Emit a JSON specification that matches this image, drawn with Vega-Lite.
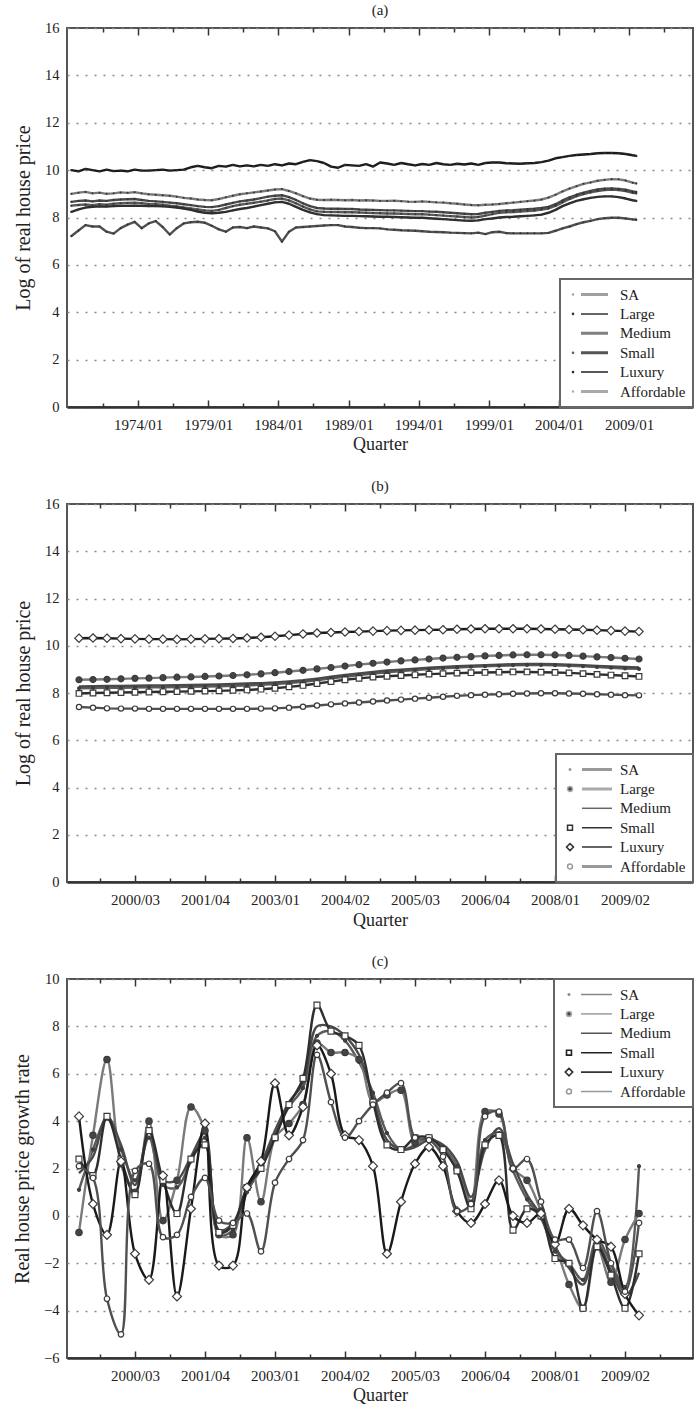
{
"$schema": "https://vega.github.io/schema/vega-lite/v6.json",
"background": "white",
"padding": {"left": 11, "top": 2, "right": 0, "bottom": 0},
"autosize": {"type": "pad"},
"bounds": "flush",
"spacing": 97,
"config": {
  "font": "Liberation Serif, Times New Roman, serif",
  "view": {"stroke": "#555555", "strokeWidth": 2},
  "title": {"font": "Liberation Serif, Times New Roman, serif", "fontSize": 15, "fontWeight": "normal", "color": "#222222", "offset": 2},
  "axis": {"labelFont": "Liberation Serif, Times New Roman, serif", "titleFont": "Liberation Serif, Times New Roman, serif", "labelColor": "#222222", "titleColor": "#222222", "titleFontWeight": "normal", "labelFontSize": 14, "titleFontSize": 18},
  "axisY": {"titleFontSize": 20, "labelFontSize": 14.5},
  "axisX": {"labelFontSize": 15},
  "legend": {"labelFont": "Liberation Serif, Times New Roman, serif", "labelFontSize": 15, "labelColor": "#222222", "fillColor": "white", "strokeColor": "#666666", "padding": 7, "rowPadding": 2.4, "symbolSize": 225, "offset": 0, "labelLimit": 200}
},
"datasets": {
"A": [
{"t":1969.25,"SA":8.50,"Large":9.00,"Medium":8.66,"Small":8.24,"Luxury":10.00,"Affordable":7.22},
{"t":1969.75,"SA":8.53,"Large":9.05,"Medium":8.70,"Small":8.34,"Luxury":9.95,"Affordable":7.45},
{"t":1970.25,"SA":8.55,"Large":9.08,"Medium":8.72,"Small":8.42,"Luxury":10.05,"Affordable":7.68},
{"t":1970.75,"SA":8.52,"Large":9.02,"Medium":8.68,"Small":8.45,"Luxury":10.00,"Affordable":7.62},
{"t":1971.25,"SA":8.56,"Large":9.05,"Medium":8.72,"Small":8.47,"Luxury":9.95,"Affordable":7.62},
{"t":1971.75,"SA":8.54,"Large":9.00,"Medium":8.70,"Small":8.46,"Luxury":10.02,"Affordable":7.40},
{"t":1972.25,"SA":8.58,"Large":9.02,"Medium":8.74,"Small":8.48,"Luxury":9.96,"Affordable":7.32},
{"t":1972.75,"SA":8.60,"Large":9.06,"Medium":8.76,"Small":8.49,"Luxury":9.98,"Affordable":7.55},
{"t":1973.25,"SA":8.61,"Large":9.04,"Medium":8.77,"Small":8.49,"Luxury":9.95,"Affordable":7.70},
{"t":1973.75,"SA":8.62,"Large":9.07,"Medium":8.78,"Small":8.50,"Luxury":10.02,"Affordable":7.82},
{"t":1974.25,"SA":8.60,"Large":9.02,"Medium":8.74,"Small":8.49,"Luxury":9.98,"Affordable":7.55},
{"t":1974.75,"SA":8.57,"Large":8.98,"Medium":8.70,"Small":8.48,"Luxury":9.98,"Affordable":7.75},
{"t":1975.25,"SA":8.56,"Large":8.96,"Medium":8.68,"Small":8.48,"Luxury":10.00,"Affordable":7.85},
{"t":1975.75,"SA":8.54,"Large":8.94,"Medium":8.66,"Small":8.47,"Luxury":10.02,"Affordable":7.60},
{"t":1976.25,"SA":8.50,"Large":8.92,"Medium":8.63,"Small":8.45,"Luxury":9.98,"Affordable":7.28},
{"t":1976.75,"SA":8.47,"Large":8.88,"Medium":8.60,"Small":8.42,"Luxury":10.00,"Affordable":7.55},
{"t":1977.25,"SA":8.42,"Large":8.83,"Medium":8.56,"Small":8.38,"Luxury":10.02,"Affordable":7.75},
{"t":1977.75,"SA":8.38,"Large":8.80,"Medium":8.52,"Small":8.32,"Luxury":10.12,"Affordable":7.80},
{"t":1978.25,"SA":8.34,"Large":8.76,"Medium":8.48,"Small":8.25,"Luxury":10.18,"Affordable":7.82},
{"t":1978.75,"SA":8.30,"Large":8.74,"Medium":8.45,"Small":8.20,"Luxury":10.12,"Affordable":7.78},
{"t":1979.25,"SA":8.28,"Large":8.73,"Medium":8.44,"Small":8.18,"Luxury":10.08,"Affordable":7.65},
{"t":1979.75,"SA":8.32,"Large":8.78,"Medium":8.48,"Small":8.20,"Luxury":10.18,"Affordable":7.50},
{"t":1980.25,"SA":8.40,"Large":8.85,"Medium":8.55,"Small":8.24,"Luxury":10.15,"Affordable":7.40},
{"t":1980.75,"SA":8.48,"Large":8.92,"Medium":8.62,"Small":8.30,"Luxury":10.22,"Affordable":7.58},
{"t":1981.25,"SA":8.54,"Large":8.98,"Medium":8.68,"Small":8.36,"Luxury":10.16,"Affordable":7.60},
{"t":1981.75,"SA":8.58,"Large":9.02,"Medium":8.72,"Small":8.40,"Luxury":10.20,"Affordable":7.55},
{"t":1982.25,"SA":8.62,"Large":9.06,"Medium":8.76,"Small":8.46,"Luxury":10.16,"Affordable":7.62},
{"t":1982.75,"SA":8.67,"Large":9.10,"Medium":8.82,"Small":8.52,"Luxury":10.22,"Affordable":7.58},
{"t":1983.25,"SA":8.72,"Large":9.14,"Medium":8.88,"Small":8.58,"Luxury":10.18,"Affordable":7.54},
{"t":1983.75,"SA":8.78,"Large":9.18,"Medium":8.92,"Small":8.64,"Luxury":10.25,"Affordable":7.42},
{"t":1984.25,"SA":8.80,"Large":9.20,"Medium":8.94,"Small":8.66,"Luxury":10.20,"Affordable":6.98},
{"t":1984.75,"SA":8.72,"Large":9.12,"Medium":8.86,"Small":8.58,"Luxury":10.28,"Affordable":7.40},
{"t":1985.25,"SA":8.60,"Large":9.02,"Medium":8.74,"Small":8.45,"Luxury":10.25,"Affordable":7.58},
{"t":1985.75,"SA":8.46,"Large":8.90,"Medium":8.60,"Small":8.32,"Luxury":10.35,"Affordable":7.60},
{"t":1986.25,"SA":8.34,"Large":8.80,"Medium":8.48,"Small":8.22,"Luxury":10.42,"Affordable":7.62},
{"t":1986.75,"SA":8.26,"Large":8.75,"Medium":8.40,"Small":8.14,"Luxury":10.38,"Affordable":7.64},
{"t":1987.25,"SA":8.24,"Large":8.74,"Medium":8.38,"Small":8.10,"Luxury":10.30,"Affordable":7.66},
{"t":1987.75,"SA":8.23,"Large":8.75,"Medium":8.37,"Small":8.09,"Luxury":10.15,"Affordable":7.68},
{"t":1988.25,"SA":8.23,"Large":8.74,"Medium":8.37,"Small":8.08,"Luxury":10.10,"Affordable":7.68},
{"t":1988.75,"SA":8.22,"Large":8.73,"Medium":8.36,"Small":8.07,"Luxury":10.22,"Affordable":7.62},
{"t":1989.25,"SA":8.22,"Large":8.74,"Medium":8.36,"Small":8.07,"Luxury":10.20,"Affordable":7.60},
{"t":1989.75,"SA":8.21,"Large":8.72,"Medium":8.34,"Small":8.06,"Luxury":10.18,"Affordable":7.57},
{"t":1990.25,"SA":8.20,"Large":8.73,"Medium":8.33,"Small":8.05,"Luxury":10.25,"Affordable":7.55},
{"t":1990.75,"SA":8.19,"Large":8.72,"Medium":8.32,"Small":8.04,"Luxury":10.15,"Affordable":7.55},
{"t":1991.25,"SA":8.18,"Large":8.70,"Medium":8.31,"Small":8.03,"Luxury":10.32,"Affordable":7.54},
{"t":1991.75,"SA":8.17,"Large":8.70,"Medium":8.30,"Small":8.03,"Luxury":10.28,"Affordable":7.50},
{"t":1992.25,"SA":8.17,"Large":8.71,"Medium":8.30,"Small":8.02,"Luxury":10.22,"Affordable":7.48},
{"t":1992.75,"SA":8.16,"Large":8.69,"Medium":8.29,"Small":8.01,"Luxury":10.30,"Affordable":7.46},
{"t":1993.25,"SA":8.15,"Large":8.67,"Medium":8.28,"Small":8.00,"Luxury":10.25,"Affordable":7.45},
{"t":1993.75,"SA":8.14,"Large":8.66,"Medium":8.27,"Small":7.99,"Luxury":10.20,"Affordable":7.44},
{"t":1994.25,"SA":8.14,"Large":8.68,"Medium":8.27,"Small":7.99,"Luxury":10.26,"Affordable":7.42},
{"t":1994.75,"SA":8.12,"Large":8.66,"Medium":8.25,"Small":7.97,"Luxury":10.22,"Affordable":7.40},
{"t":1995.25,"SA":8.10,"Large":8.64,"Medium":8.24,"Small":7.95,"Luxury":10.30,"Affordable":7.39},
{"t":1995.75,"SA":8.08,"Large":8.63,"Medium":8.22,"Small":7.93,"Luxury":10.25,"Affordable":7.38},
{"t":1996.25,"SA":8.06,"Large":8.60,"Medium":8.20,"Small":7.91,"Luxury":10.22,"Affordable":7.36},
{"t":1996.75,"SA":8.04,"Large":8.58,"Medium":8.18,"Small":7.89,"Luxury":10.27,"Affordable":7.35},
{"t":1997.25,"SA":8.02,"Large":8.55,"Medium":8.16,"Small":7.87,"Luxury":10.24,"Affordable":7.34},
{"t":1997.75,"SA":8.00,"Large":8.53,"Medium":8.14,"Small":7.86,"Luxury":10.28,"Affordable":7.33},
{"t":1998.25,"SA":8.02,"Large":8.52,"Medium":8.15,"Small":7.88,"Luxury":10.22,"Affordable":7.36},
{"t":1998.75,"SA":8.08,"Large":8.54,"Medium":8.20,"Small":7.93,"Luxury":10.30,"Affordable":7.30},
{"t":1999.25,"SA":8.14,"Large":8.55,"Medium":8.24,"Small":7.96,"Luxury":10.32,"Affordable":7.38},
{"t":1999.75,"SA":8.20,"Large":8.57,"Medium":8.28,"Small":8.00,"Luxury":10.32,"Affordable":7.40},
{"t":2000.25,"SA":8.22,"Large":8.60,"Medium":8.30,"Small":8.02,"Luxury":10.29,"Affordable":7.34},
{"t":2000.75,"SA":8.23,"Large":8.63,"Medium":8.31,"Small":8.03,"Luxury":10.28,"Affordable":7.33},
{"t":2001.25,"SA":8.25,"Large":8.66,"Medium":8.33,"Small":8.05,"Luxury":10.27,"Affordable":7.33},
{"t":2001.75,"SA":8.27,"Large":8.69,"Medium":8.35,"Small":8.07,"Luxury":10.29,"Affordable":7.33},
{"t":2002.25,"SA":8.29,"Large":8.72,"Medium":8.37,"Small":8.09,"Luxury":10.30,"Affordable":7.33},
{"t":2002.75,"SA":8.33,"Large":8.76,"Medium":8.40,"Small":8.12,"Luxury":10.34,"Affordable":7.33},
{"t":2003.25,"SA":8.38,"Large":8.84,"Medium":8.45,"Small":8.20,"Luxury":10.40,"Affordable":7.35},
{"t":2003.75,"SA":8.49,"Large":8.96,"Medium":8.56,"Small":8.32,"Luxury":10.50,"Affordable":7.44},
{"t":2004.25,"SA":8.64,"Large":9.10,"Medium":8.72,"Small":8.48,"Luxury":10.55,"Affordable":7.54},
{"t":2004.75,"SA":8.78,"Large":9.22,"Medium":8.85,"Small":8.60,"Luxury":10.60,"Affordable":7.62},
{"t":2005.25,"SA":8.90,"Large":9.32,"Medium":8.96,"Small":8.70,"Luxury":10.64,"Affordable":7.72},
{"t":2005.75,"SA":8.99,"Large":9.42,"Medium":9.05,"Small":8.77,"Luxury":10.66,"Affordable":7.80},
{"t":2006.25,"SA":9.06,"Large":9.48,"Medium":9.12,"Small":8.83,"Luxury":10.68,"Affordable":7.86},
{"t":2006.75,"SA":9.12,"Large":9.55,"Medium":9.18,"Small":8.87,"Luxury":10.71,"Affordable":7.93},
{"t":2007.25,"SA":9.16,"Large":9.59,"Medium":9.22,"Small":8.89,"Luxury":10.72,"Affordable":7.97},
{"t":2007.75,"SA":9.18,"Large":9.62,"Medium":9.23,"Small":8.89,"Luxury":10.72,"Affordable":7.99},
{"t":2008.25,"SA":9.16,"Large":9.61,"Medium":9.21,"Small":8.86,"Luxury":10.71,"Affordable":7.99},
{"t":2008.75,"SA":9.12,"Large":9.56,"Medium":9.17,"Small":8.80,"Luxury":10.68,"Affordable":7.96},
{"t":2009.25,"SA":9.04,"Large":9.47,"Medium":9.10,"Small":8.73,"Luxury":10.63,"Affordable":7.92},
{"t":2009.5,"SA":9.02,"Large":9.44,"Medium":9.08,"Small":8.70,"Luxury":10.60,"Affordable":7.90}
],
"B": [
{"t":1999.5,"SA":8.20,"Large":8.56,"Medium":8.28,"Small":7.98,"Luxury":10.32,"Affordable":7.41},
{"t":1999.75,"SA":8.21,"Large":8.57,"Medium":8.29,"Small":8.00,"Luxury":10.33,"Affordable":7.38},
{"t":2000,"SA":8.22,"Large":8.58,"Medium":8.30,"Small":8.01,"Luxury":10.32,"Affordable":7.35},
{"t":2000.25,"SA":8.22,"Large":8.60,"Medium":8.30,"Small":8.02,"Luxury":10.30,"Affordable":7.34},
{"t":2000.5,"SA":8.23,"Large":8.62,"Medium":8.31,"Small":8.03,"Luxury":10.29,"Affordable":7.34},
{"t":2000.75,"SA":8.24,"Large":8.63,"Medium":8.32,"Small":8.04,"Luxury":10.28,"Affordable":7.33},
{"t":2001,"SA":8.24,"Large":8.65,"Medium":8.32,"Small":8.05,"Luxury":10.28,"Affordable":7.33},
{"t":2001.25,"SA":8.25,"Large":8.67,"Medium":8.33,"Small":8.06,"Luxury":10.27,"Affordable":7.33},
{"t":2001.5,"SA":8.26,"Large":8.68,"Medium":8.34,"Small":8.07,"Luxury":10.28,"Affordable":7.33},
{"t":2001.75,"SA":8.27,"Large":8.70,"Medium":8.35,"Small":8.08,"Luxury":10.29,"Affordable":7.33},
{"t":2002,"SA":8.28,"Large":8.72,"Medium":8.36,"Small":8.09,"Luxury":10.30,"Affordable":7.33},
{"t":2002.25,"SA":8.30,"Large":8.74,"Medium":8.38,"Small":8.11,"Luxury":10.31,"Affordable":7.33},
{"t":2002.5,"SA":8.32,"Large":8.77,"Medium":8.40,"Small":8.13,"Luxury":10.33,"Affordable":7.33},
{"t":2002.75,"SA":8.35,"Large":8.81,"Medium":8.42,"Small":8.16,"Luxury":10.36,"Affordable":7.34},
{"t":2003,"SA":8.38,"Large":8.86,"Medium":8.45,"Small":8.20,"Luxury":10.40,"Affordable":7.35},
{"t":2003.25,"SA":8.42,"Large":8.91,"Medium":8.49,"Small":8.26,"Luxury":10.45,"Affordable":7.38},
{"t":2003.5,"SA":8.47,"Large":8.96,"Medium":8.54,"Small":8.32,"Luxury":10.50,"Affordable":7.42},
{"t":2003.75,"SA":8.54,"Large":9.02,"Medium":8.61,"Small":8.40,"Luxury":10.54,"Affordable":7.47},
{"t":2004,"SA":8.62,"Large":9.08,"Medium":8.69,"Small":8.48,"Luxury":10.56,"Affordable":7.52},
{"t":2004.25,"SA":8.69,"Large":9.14,"Medium":8.76,"Small":8.56,"Luxury":10.58,"Affordable":7.56},
{"t":2004.5,"SA":8.76,"Large":9.20,"Medium":8.83,"Small":8.62,"Luxury":10.60,"Affordable":7.60},
{"t":2004.75,"SA":8.82,"Large":9.26,"Medium":8.89,"Small":8.67,"Luxury":10.62,"Affordable":7.64},
{"t":2005,"SA":8.88,"Large":9.31,"Medium":8.95,"Small":8.71,"Luxury":10.64,"Affordable":7.68},
{"t":2005.25,"SA":8.93,"Large":9.36,"Medium":8.99,"Small":8.74,"Luxury":10.65,"Affordable":7.72},
{"t":2005.5,"SA":8.97,"Large":9.40,"Medium":9.03,"Small":8.77,"Luxury":10.66,"Affordable":7.76},
{"t":2005.75,"SA":9.01,"Large":9.44,"Medium":9.07,"Small":8.80,"Luxury":10.67,"Affordable":7.80},
{"t":2006,"SA":9.05,"Large":9.48,"Medium":9.10,"Small":8.82,"Luxury":10.68,"Affordable":7.84},
{"t":2006.25,"SA":9.08,"Large":9.51,"Medium":9.13,"Small":8.84,"Luxury":10.70,"Affordable":7.88},
{"t":2006.5,"SA":9.11,"Large":9.54,"Medium":9.16,"Small":8.86,"Luxury":10.71,"Affordable":7.91},
{"t":2006.75,"SA":9.13,"Large":9.57,"Medium":9.18,"Small":8.87,"Luxury":10.72,"Affordable":7.93},
{"t":2007,"SA":9.15,"Large":9.59,"Medium":9.20,"Small":8.88,"Luxury":10.72,"Affordable":7.95},
{"t":2007.25,"SA":9.17,"Large":9.61,"Medium":9.22,"Small":8.89,"Luxury":10.72,"Affordable":7.97},
{"t":2007.5,"SA":9.18,"Large":9.62,"Medium":9.23,"Small":8.89,"Luxury":10.72,"Affordable":7.98},
{"t":2007.75,"SA":9.18,"Large":9.62,"Medium":9.23,"Small":8.88,"Luxury":10.71,"Affordable":7.99},
{"t":2008,"SA":9.17,"Large":9.61,"Medium":9.22,"Small":8.87,"Luxury":10.70,"Affordable":7.99},
{"t":2008.25,"SA":9.15,"Large":9.59,"Medium":9.20,"Small":8.85,"Luxury":10.69,"Affordable":7.98},
{"t":2008.5,"SA":9.13,"Large":9.56,"Medium":9.18,"Small":8.82,"Luxury":10.68,"Affordable":7.97},
{"t":2008.75,"SA":9.10,"Large":9.53,"Medium":9.15,"Small":8.79,"Luxury":10.66,"Affordable":7.95},
{"t":2009,"SA":9.07,"Large":9.50,"Medium":9.12,"Small":8.76,"Luxury":10.64,"Affordable":7.93},
{"t":2009.25,"SA":9.04,"Large":9.47,"Medium":9.10,"Small":8.73,"Luxury":10.62,"Affordable":7.91},
{"t":2009.5,"SA":9.02,"Large":9.44,"Medium":9.08,"Small":8.70,"Luxury":10.60,"Affordable":7.90}
],
"C": [
{"t":1999.5,"SA":1.1,"Large":-0.7,"Medium":1.8,"Small":2.4,"Luxury":4.2,"Affordable":2.1},
{"t":1999.75,"SA":2.8,"Large":3.4,"Medium":2.5,"Small":1.7,"Luxury":0.5,"Affordable":1.6},
{"t":2000,"SA":4.1,"Large":6.6,"Medium":4.2,"Small":4.2,"Luxury":-0.8,"Affordable":-3.5},
{"t":2000.25,"SA":2.8,"Large":2.2,"Medium":3.0,"Small":2.4,"Luxury":2.3,"Affordable":-5.0},
{"t":2000.5,"SA":1.5,"Large":1.0,"Medium":1.3,"Small":0.9,"Luxury":-1.6,"Affordable":1.9},
{"t":2000.75,"SA":3.3,"Large":4.0,"Medium":3.6,"Small":3.6,"Luxury":-2.7,"Affordable":2.2},
{"t":2001,"SA":1.3,"Large":-0.2,"Medium":1.5,"Small":1.5,"Luxury":1.7,"Affordable":-0.9},
{"t":2001.25,"SA":1.2,"Large":1.5,"Medium":1.5,"Small":0.1,"Luxury":-3.4,"Affordable":-0.8},
{"t":2001.5,"SA":2.3,"Large":4.6,"Medium":2.5,"Small":2.4,"Luxury":0.3,"Affordable":0.8},
{"t":2001.75,"SA":3.3,"Large":3.6,"Medium":3.5,"Small":3.0,"Luxury":3.9,"Affordable":1.6},
{"t":2002,"SA":-0.8,"Large":-0.8,"Medium":-0.6,"Small":-0.7,"Luxury":-2.1,"Affordable":-0.2},
{"t":2002.25,"SA":-0.6,"Large":-0.8,"Medium":-0.3,"Small":-0.4,"Luxury":-2.1,"Affordable":-0.3},
{"t":2002.5,"SA":1.0,"Large":3.3,"Medium":1.2,"Small":1.2,"Luxury":1.2,"Affordable":0.1},
{"t":2002.75,"SA":2.0,"Large":0.6,"Medium":2.2,"Small":2.0,"Luxury":2.3,"Affordable":-1.5},
{"t":2003,"SA":3.4,"Large":3.3,"Medium":3.6,"Small":3.3,"Luxury":5.6,"Affordable":1.4},
{"t":2003.25,"SA":4.6,"Large":3.9,"Medium":4.8,"Small":4.7,"Luxury":3.4,"Affordable":2.4},
{"t":2003.5,"SA":5.4,"Large":4.7,"Medium":5.6,"Small":5.8,"Luxury":4.6,"Affordable":3.2},
{"t":2003.75,"SA":7.6,"Large":7.3,"Medium":8.0,"Small":8.9,"Luxury":7.2,"Affordable":6.8},
{"t":2004,"SA":7.8,"Large":6.9,"Medium":8.0,"Small":7.8,"Luxury":6.0,"Affordable":4.8},
{"t":2004.25,"SA":7.4,"Large":6.9,"Medium":7.6,"Small":7.6,"Luxury":3.4,"Affordable":3.3},
{"t":2004.5,"SA":6.5,"Large":6.6,"Medium":6.8,"Small":7.2,"Luxury":3.2,"Affordable":4.0},
{"t":2004.75,"SA":5.2,"Large":4.8,"Medium":5.0,"Small":4.8,"Luxury":2.1,"Affordable":4.7},
{"t":2005,"SA":3.5,"Large":5.1,"Medium":3.2,"Small":3.0,"Luxury":-1.6,"Affordable":5.2},
{"t":2005.25,"SA":2.8,"Large":5.3,"Medium":2.8,"Small":2.8,"Luxury":0.6,"Affordable":5.6},
{"t":2005.5,"SA":3.0,"Large":3.1,"Medium":2.9,"Small":3.3,"Luxury":2.2,"Affordable":3.3},
{"t":2005.75,"SA":3.3,"Large":3.3,"Medium":3.2,"Small":3.3,"Luxury":2.9,"Affordable":3.2},
{"t":2006,"SA":2.9,"Large":2.8,"Medium":3.0,"Small":2.8,"Luxury":2.1,"Affordable":2.5},
{"t":2006.25,"SA":2.1,"Large":2.0,"Medium":2.3,"Small":1.9,"Luxury":0.2,"Affordable":0.2},
{"t":2006.5,"SA":0.6,"Large":0.5,"Medium":0.8,"Small":0.3,"Luxury":-0.3,"Affordable":0.5},
{"t":2006.75,"SA":3.2,"Large":4.4,"Medium":2.8,"Small":3.0,"Luxury":0.5,"Affordable":4.2},
{"t":2007,"SA":3.5,"Large":4.3,"Medium":3.7,"Small":3.4,"Luxury":1.5,"Affordable":4.4},
{"t":2007.25,"SA":1.9,"Large":2.0,"Medium":2.2,"Small":-0.6,"Luxury":0.0,"Affordable":2.0},
{"t":2007.5,"SA":0.7,"Large":1.5,"Medium":0.9,"Small":0.3,"Luxury":-0.3,"Affordable":2.4},
{"t":2007.75,"SA":-0.1,"Large":0.2,"Medium":0.0,"Small":0.0,"Luxury":0.1,"Affordable":0.6},
{"t":2008,"SA":-1.5,"Large":-1.2,"Medium":-1.3,"Small":-1.8,"Luxury":-1.2,"Affordable":-1.0},
{"t":2008.25,"SA":-2.0,"Large":-2.9,"Medium":-2.2,"Small":-2.0,"Luxury":0.3,"Affordable":-1.0},
{"t":2008.5,"SA":-2.7,"Large":-3.9,"Medium":-2.9,"Small":-3.9,"Luxury":-0.4,"Affordable":-2.2},
{"t":2008.75,"SA":-1.0,"Large":-1.3,"Medium":-1.2,"Small":-1.3,"Luxury":-1.0,"Affordable":0.2},
{"t":2009,"SA":-2.0,"Large":-2.8,"Medium":-2.3,"Small":-2.5,"Luxury":-1.3,"Affordable":-2.0},
{"t":2009.25,"SA":-3.0,"Large":-1.0,"Medium":-3.4,"Small":-3.9,"Luxury":-3.3,"Affordable":-3.2},
{"t":2009.5,"SA":2.1,"Large":0.1,"Medium":-2.4,"Small":-1.6,"Luxury":-4.2,"Affordable":-0.3}
]
},
"vconcat": [
{
 "title": "(a)",
 "width": 626, "height": 379,
 "data": {"name": "A"},
 "transform": [{"fold": ["SA","Large","Medium","Small","Luxury","Affordable"], "as": ["series","value"]}],
 "encoding": {"y": {"field": "value", "type": "quantitative", "scale": {"domain": [0,16], "nice": false, "zero": false}, "axis": {"title": "Log of real house price", "values": [0,2,4,6,8,10,12,14,16], "grid": true, "gridDash": [2,7], "gridColor": "#8a8a8a", "gridWidth": 1.5, "ticks": false, "domain": false, "labelPadding": 8, "titlePadding": 11}}},
 "layer": [
  {"mark": {"type": "line", "strokeCap": "round", "strokeJoin": "round"},
   "encoding": {
    "x": {"field": "t", "type": "quantitative", "scale": {"domain": [1968.93, 2013.55], "nice": false, "zero": false},
          "axis": {"orient": "bottom", "title": "Quarter", "values": [1971.5,1974,1976.5,1979,1981.5,1984,1986.5,1989,1991.5,1994,1996.5,1999,2001.5,2004,2006.5,2009,2011.5], "labelExpr": "datum.value % 1 == 0 ? datum.value + '/01' : ''", "grid": false, "domain": true, "domainColor": "#333333", "domainWidth": 2.5, "ticks": true, "tickColor": "#333333", "tickWidth": 1.5, "tickSize": {"condition": {"test": "datum.value % 1 == 0", "value": -7}, "value": -4}, "labelPadding": 17, "labelOverlap": false, "labelFlush": false, "labelBound": false, "titlePadding": 0}},
    "stroke": {"field": "series", "type": "nominal", "scale": {"domain": ["SA","Large","Medium","Small","Luxury","Affordable"], "range": ["#5a5a5a","#7a7a7a","#4a4a4a","#2e2e2e","#1a1a1a","#505050"]}, "legend": null},
    "strokeWidth": {"field": "series", "type": "ordinal", "scale": {"domain": ["SA","Large","Medium","Small","Luxury","Affordable"], "range": [2.4,2.4,2.4,2.8,2.2,2.4]}, "legend": null}
   }},
  {"mark": {"type": "point", "filled": true, "size": 4, "opacity": 1, "color": "#333333"},
   "encoding": {
    "x": {"field": "t", "type": "quantitative", "axis": {"orient": "top", "title": null, "values": [1971.5,1974,1976.5,1979,1981.5,1984,1986.5,1989,1991.5,1994,1996.5,1999,2001.5,2004,2006.5,2009,2011.5], "labels": false, "grid": false, "domain": false, "ticks": true, "tickColor": "#333333", "tickWidth": 1.5, "tickSize": {"condition": {"test": "datum.value % 1 == 0", "value": -7}, "value": -4}}}
   }},
  {"transform": [{"filter": "false"}],
   "mark": {"type": "point", "opacity": 1},
   "encoding": {
    "shape": {"field": "series", "type": "nominal",
      "scale": {"domain": ["SA","Large","Medium","Small","Luxury","Affordable"], "range": [
        "M-0.4,0a0.07,0.07 0 1,0 0.14,0a0.07,0.07 0 1,0 -0.14,0M0.73,-0.1H4.33M0.73,0.1H4.33",
        "M-0.4,0a0.07,0.07 0 1,0 0.14,0a0.07,0.07 0 1,0 -0.14,0M0.73,0H4.33",
        "M0.73,-0.1H4.33M0.73,0.1H4.33",
        "M-0.4,0a0.07,0.07 0 1,0 0.14,0a0.07,0.07 0 1,0 -0.14,0M0.73,-0.1H4.33M0.73,0.1H4.33",
        "M-0.4,0a0.07,0.07 0 1,0 0.14,0a0.07,0.07 0 1,0 -0.14,0M0.73,0H4.33",
        "M-0.4,0a0.07,0.07 0 1,0 0.14,0a0.07,0.07 0 1,0 -0.14,0M0.73,-0.1H4.33M0.73,0.1H4.33"]},
      "legend": {"orient": "bottom-right", "title": null, "labelOffset": 36, "labelFont": "Liberation Serif, Times New Roman, serif",
        "encoding": {
          "legend": {"strokeWidth": {"value": 2}},
          "symbols": {
            "stroke": {"value": {"expr": "['#a0a0a0','#333333','#808080','#555555','#222222','#aaaaaa'][indexof(['SA','Large','Medium','Small','Luxury','Affordable'], datum.value)]"}},
            "strokeWidth": {"value": 1.5},
            "fill": {"value": "#333333"},
            "opacity": {"value": 1}}}}}
   }}
 ],
 "resolve": {"axis": {"x": "independent"}, "scale": {"shape": "independent"}}
},
{
 "title": "(b)",
 "width": 626, "height": 378,
 "data": {"name": "B"},
 "transform": [{"fold": ["SA","Large","Medium","Small","Luxury","Affordable"], "as": ["series","value"]}],
 "encoding": {"y": {"field": "value", "type": "quantitative", "scale": {"domain": [0,16], "nice": false, "zero": false}, "axis": {"title": "Log of real house price", "values": [0,2,4,6,8,10,12,14,16], "grid": true, "gridDash": [2,7], "gridColor": "#8a8a8a", "gridWidth": 1.5, "ticks": false, "domain": false, "labelPadding": 8, "titlePadding": 11}}},
 "layer": [
  {"mark": {"type": "line", "strokeJoin": "round"},
   "encoding": {
    "x": {"field": "t", "type": "quantitative", "scale": {"domain": [1999.286, 2010.464], "nice": false, "zero": false},
          "axis": {"orient": "bottom", "title": "Quarter", "values": [1999.875,2000.5,2001.125,2001.75,2002.375,2003,2003.625,2004.25,2004.875,2005.5,2006.125,2006.75,2007.375,2008,2008.625,2009.25,2009.875], "labelExpr": "(datum.value * 4) % 1 == 0 ? floor(datum.value) + '/0' + (round((datum.value - floor(datum.value)) * 4) + 1) : ''", "grid": false, "domain": true, "domainColor": "#333333", "domainWidth": 2.5, "ticks": true, "tickColor": "#333333", "tickWidth": 1.5, "tickSize": {"condition": {"test": "(datum.value * 4) % 1 == 0", "value": -7}, "value": -4}, "labelPadding": 17, "labelOverlap": false, "labelFlush": false, "labelBound": false, "titlePadding": 1}},
    "stroke": {"field": "series", "type": "nominal", "scale": {"domain": ["SA","Large","Medium","Small","Luxury","Affordable"], "range": ["#777777","#8a8a8a","#444444","#333333","#333333","#888888"]}, "legend": null},
    "strokeWidth": {"field": "series", "type": "ordinal", "scale": {"domain": ["SA","Large","Medium","Small","Luxury","Affordable"], "range": [1.5,1.5,2,1.5,1.5,1.5]}, "legend": null}
   }},
  {"mark": {"type": "point", "size": 64, "opacity": 1, "strokeWidth": 1.2, "stroke": "#3a3a3a"},
   "encoding": {
    "x": {"field": "t", "type": "quantitative", "axis": {"orient": "top", "title": null, "values": [1999.875,2000.5,2001.125,2001.75,2002.375,2003,2003.625,2004.25,2004.875,2005.5,2006.125,2006.75,2007.375,2008,2008.625,2009.25,2009.875], "labels": false, "grid": false, "domain": false, "ticks": true, "tickColor": "#333333", "tickWidth": 1.5, "tickSize": {"condition": {"test": "(datum.value * 4) % 1 == 0", "value": -7}, "value": -4}}},
    "shape": {"field": "series", "type": "nominal", "scale": {"domain": ["SA","Large","Medium","Small","Luxury","Affordable"], "range": [
       "M-0.35,0a0.35,0.35 0 1,0 0.7,0a0.35,0.35 0 1,0 -0.7,0",
       "M-0.75,0a0.75,0.75 0 1,0 1.5,0a0.75,0.75 0 1,0 -1.5,0",
       "M0,0",
       "M-0.7,-0.7H0.7V0.7H-0.7Z",
       "M0,-1.05L1.05,0L0,1.05L-1.05,0Z",
       "M-0.65,0a0.65,0.65 0 1,0 1.3,0a0.65,0.65 0 1,0 -1.3,0"]}, "legend": null},
    "fill": {"field": "series", "type": "nominal", "scale": {"domain": ["SA","Large","Medium","Small","Luxury","Affordable"], "range": ["#444444","#444444","transparent","#ffffff","#ffffff","#ffffff"]}, "legend": null}
   }},
  {"transform": [{"filter": "false"}],
   "mark": {"type": "point", "opacity": 1},
   "encoding": {
    "shape": {"field": "series", "type": "nominal",
      "scale": {"domain": ["SA","Large","Medium","Small","Luxury","Affordable"], "range": [
        "M-0.3,0a0.1,0.1 0 1,0 0.2,0a0.1,0.1 0 1,0 -0.2,0M1.4,-0.1H5.4M1.4,0.1H5.4",
        "M-0.53,0a0.33,0.33 0 1,0 0.66,0a0.33,0.33 0 1,0 -0.66,0M1.4,-0.1H5.4M1.4,0.1H5.4",
        "M1.4,0H5.4",
        "M-0.53,-0.33H0.13V0.33H-0.53ZM1.4,0H5.4",
        "M-0.2,-0.47L0.27,0L-0.2,0.47L-0.67,0ZM1.4,0H5.4",
        "M-0.53,0a0.33,0.33 0 1,0 0.66,0a0.33,0.33 0 1,0 -0.66,0M1.4,-0.1H5.4M1.4,0.1H5.4"]},
      "legend": {"orient": "bottom-right", "title": null, "labelOffset": 40, "labelFont": "Liberation Serif, Times New Roman, serif",
        "encoding": {
          "legend": {"strokeWidth": {"value": 2}},
          "symbols": {
            "stroke": {"value": {"expr": "['#999999','#aaaaaa','#666666','#333333','#333333','#999999'][indexof(['SA','Large','Medium','Small','Luxury','Affordable'], datum.value)]"}},
            "strokeWidth": {"value": 1.5},
            "fill": {"value": {"expr": "['#444444','#444444','transparent','#ffffff','#ffffff','#ffffff'][indexof(['SA','Large','Medium','Small','Luxury','Affordable'], datum.value)]"}},
            "opacity": {"value": 1}}}}}
   }}
 ],
 "resolve": {"axis": {"x": "independent"}, "scale": {"shape": "independent"}}
},
{
 "title": "(c)",
 "width": 626, "height": 379,
 "data": {"name": "C"},
 "transform": [{"fold": ["SA","Large","Medium","Small","Luxury","Affordable"], "as": ["series","value"]}],
 "encoding": {"y": {"field": "value", "type": "quantitative", "scale": {"domain": [-6,10], "nice": false, "zero": false}, "axis": {"title": "Real house price growth rate", "values": [-6,-4,-2,0,2,4,6,8,10], "grid": true, "gridDash": [2,7], "gridColor": "#8a8a8a", "gridWidth": 1.5, "ticks": false, "domain": false, "labelPadding": 8, "titlePadding": 11}}},
 "layer": [
  {"mark": {"type": "line", "interpolate": "catmull-rom", "strokeJoin": "round"},
   "encoding": {
    "x": {"field": "t", "type": "quantitative", "scale": {"domain": [1999.286, 2010.464], "nice": false, "zero": false},
          "axis": {"orient": "bottom", "title": "Quarter", "values": [1999.875,2000.5,2001.125,2001.75,2002.375,2003,2003.625,2004.25,2004.875,2005.5,2006.125,2006.75,2007.375,2008,2008.625,2009.25,2009.875], "labelExpr": "(datum.value * 4) % 1 == 0 ? floor(datum.value) + '/0' + (round((datum.value - floor(datum.value)) * 4) + 1) : ''", "grid": false, "domain": true, "domainColor": "#333333", "domainWidth": 2.5, "ticks": true, "tickColor": "#333333", "tickWidth": 1.5, "tickSize": {"condition": {"test": "(datum.value * 4) % 1 == 0", "value": -7}, "value": -4}, "labelPadding": 17, "labelOverlap": false, "labelFlush": false, "labelBound": false, "titlePadding": 0}},
    "stroke": {"field": "series", "type": "nominal", "scale": {"domain": ["SA","Large","Medium","Small","Luxury","Affordable"], "range": ["#777777","#999999","#555555","#222222","#333333","#999999"]}, "legend": null},
    "strokeWidth": {"field": "series", "type": "ordinal", "scale": {"domain": ["SA","Large","Medium","Small","Luxury","Affordable"], "range": [1.3,1.3,1.3,1.3,1.3,1.3]}, "legend": null}
   }},
  {"mark": {"type": "point", "size": 72, "opacity": 1, "strokeWidth": 1.2, "stroke": "#3a3a3a"},
   "encoding": {
    "x": {"field": "t", "type": "quantitative", "axis": {"orient": "top", "title": null, "values": [1999.875,2000.5,2001.125,2001.75,2002.375,2003,2003.625,2004.25,2004.875,2005.5,2006.125,2006.75,2007.375,2008,2008.625,2009.25,2009.875], "labels": false, "grid": false, "domain": false, "ticks": true, "tickColor": "#333333", "tickWidth": 1.5, "tickSize": {"condition": {"test": "(datum.value * 4) % 1 == 0", "value": -7}, "value": -4}}},
    "shape": {"field": "series", "type": "nominal", "scale": {"domain": ["SA","Large","Medium","Small","Luxury","Affordable"], "range": [
       "M-0.35,0a0.35,0.35 0 1,0 0.7,0a0.35,0.35 0 1,0 -0.7,0",
       "M-0.75,0a0.75,0.75 0 1,0 1.5,0a0.75,0.75 0 1,0 -1.5,0",
       "M0,0",
       "M-0.7,-0.7H0.7V0.7H-0.7Z",
       "M0,-1.05L1.05,0L0,1.05L-1.05,0Z",
       "M-0.65,0a0.65,0.65 0 1,0 1.3,0a0.65,0.65 0 1,0 -1.3,0"]}, "legend": null},
    "fill": {"field": "series", "type": "nominal", "scale": {"domain": ["SA","Large","Medium","Small","Luxury","Affordable"], "range": ["#444444","#444444","transparent","#ffffff","#ffffff","#ffffff"]}, "legend": null}
   }},
  {"transform": [{"filter": "false"}],
   "mark": {"type": "point", "opacity": 1},
   "encoding": {
    "shape": {"field": "series", "type": "nominal",
      "scale": {"domain": ["SA","Large","Medium","Small","Luxury","Affordable"], "range": [
        "M-0.17,0a0.1,0.1 0 1,0 0.2,0a0.1,0.1 0 1,0 -0.2,0M1.53,0H5.67",
        "M-0.4,0a0.33,0.33 0 1,0 0.66,0a0.33,0.33 0 1,0 -0.66,0M1.53,0H5.67",
        "M1.53,0H5.67",
        "M-0.4,-0.33H0.26V0.33H-0.4ZM1.53,0H5.67",
        "M-0.07,-0.5L0.43,0L-0.07,0.5L-0.57,0ZM1.53,0H5.67",
        "M-0.4,0a0.33,0.33 0 1,0 0.66,0a0.33,0.33 0 1,0 -0.66,0M1.53,0H5.67"]},
      "legend": {"orient": "top-right", "title": null, "labelOffset": 42, "labelFont": "Liberation Serif, Times New Roman, serif",
        "encoding": {
          "legend": {"strokeWidth": {"value": 2}},
          "symbols": {
            "stroke": {"value": {"expr": "['#888888','#aaaaaa','#555555','#222222','#333333','#999999'][indexof(['SA','Large','Medium','Small','Luxury','Affordable'], datum.value)]"}},
            "strokeWidth": {"value": 1.6},
            "fill": {"value": {"expr": "['#444444','#444444','transparent','#ffffff','#ffffff','#ffffff'][indexof(['SA','Large','Medium','Small','Luxury','Affordable'], datum.value)]"}},
            "opacity": {"value": 1}}}}}
   }}
 ],
 "resolve": {"axis": {"x": "independent"}, "scale": {"shape": "independent"}}
}
]
}
